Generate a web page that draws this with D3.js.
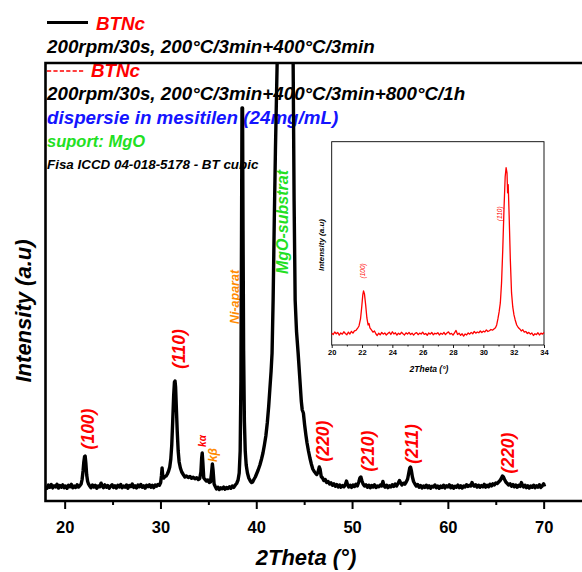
<!DOCTYPE html>
<meta charset="utf-8">
<style>
body { margin: 0; background: #fff; }
svg text { font-family: "Liberation Sans", Arial, sans-serif; font-weight: bold; font-style: italic; }
.axis text { font-style: normal; }
.axis line { stroke: #000; }
.axis path { display: none; }
</style>
<body>
<div id="chart"></div>
<script src="https://cdn.jsdelivr.net/npm/d3@7/dist/d3.min.js"></script>
<script>
// main scan: [2theta, counts]
var mainScan = [
[18.00,148],[18.15,126],[18.30,159],[18.45,137],[18.60,164],[18.75,131],[18.90,152],[19.05,141],[19.20,168],[19.35,129],
[19.50,155],[19.65,138],[19.80,161],[19.95,133],[20.10,150],[20.25,127],[20.40,158],[20.55,143],[20.70,166],[20.85,132],
[21.00,149],[21.15,136],[21.30,162],[21.45,140],[21.60,155],
[21.72,170],[21.82,215],[21.92,300],[22.00,390],[22.08,445],[22.14,450],[22.22,370],[22.30,260],[22.40,195],[22.50,168],[22.62,150],
[22.75,132],[22.90,160],[23.05,139],[23.20,157],[23.35,128],[23.50,150],[23.65,142],[23.80,178],[23.92,150],[24.05,134],
[24.20,161],[24.35,138],[24.50,155],[24.65,127],[24.80,149],[24.95,163],[25.10,135],[25.25,152],[25.40,130],[25.55,158],
[25.70,141],[25.85,165],[26.00,133],[26.15,150],[26.30,139],[26.45,160],[26.60,128],[26.75,154],[26.90,145],[27.05,170],
[27.20,136],[27.35,151],[27.50,131],[27.65,159],[27.80,142],[27.95,165],[28.10,137],[28.25,153],[28.40,129],[28.55,157],
[28.70,144],[28.85,162],[29.00,138],[29.15,156],[29.30,134],[29.45,160],[29.60,148],[29.75,166],
[29.90,158],[30.02,185],[30.10,250],[30.17,330],[30.25,240],[30.35,230],[30.48,245],[30.60,250],[30.72,270],[30.85,300],
[30.97,340],[31.08,420],[31.18,560],[31.28,800],[31.38,1060],[31.46,1190],[31.52,1200],[31.58,1140],[31.66,930],[31.75,700],
[31.85,500],[31.95,390],[32.08,330],[32.22,290],[32.38,265],[32.55,240],[32.72,250],[32.90,235],[33.08,245],[33.25,228],
[33.42,238],[33.60,222],[33.78,232],[33.95,215],[34.10,225],[34.22,290],[34.30,430],[34.36,480],[34.43,380],[34.52,230],
[34.65,215],[34.80,200],[34.95,210],[35.10,185],[35.22,190],[35.33,280],[35.42,370],[35.50,300],[35.60,170],[35.72,145],
[35.85,120],[36.00,138],[36.15,115],[36.30,132],[36.45,122],[36.60,140],[36.75,118],[36.90,135],[37.05,125],[37.20,142],
[37.35,128],[37.50,150],[37.65,136],[37.80,158],[37.95,175],[38.10,210],[38.22,280],[38.32,500],[38.40,1200],[38.46,2600],
[38.51,3930],[38.57,3930],[38.62,2700],[38.68,1500],[38.76,800],[38.85,500],[38.95,360],[39.08,280],[39.22,230],[39.38,200],
[39.52,185],[39.62,190],[39.75,215],[39.90,240],[40.05,275],[40.20,310],[40.38,360],[40.55,420],[40.70,480],[40.85,560],
[41.00,650],[41.15,780],[41.30,950],[41.42,1120],[41.55,1300],[41.65,1480],[41.76,2010],[41.88,2800],[42.00,3500],[42.18,4380],
[42.40,5400],[42.65,6200],[42.90,6500],[43.15,6300],[43.45,5600],[43.70,4900],[43.85,4380],[43.95,3000],[44.06,2010],[44.20,1700],
[44.37,1480],[44.55,1220],[44.70,1000],[44.80,910],[44.92,880],[45.05,760],[45.18,660],[45.30,580],[45.45,500],[45.60,430],
[45.75,370],[45.90,320],[46.05,295],[46.18,280],[46.32,265],[46.45,290],[46.58,340],[46.66,320],[46.78,245],[46.92,230],
[47.05,205],[47.20,215],[47.35,185],[47.50,195],[47.65,170],[47.80,182],[47.95,158],[48.10,172],[48.25,148],[48.40,165],
[48.55,140],[48.70,160],[48.85,138],[49.00,155],[49.15,142],[49.30,165],[49.42,200],[49.52,165],[49.65,140],[49.80,158],
[49.95,136],[50.10,160],[50.25,145],[50.40,168],[50.55,150],[50.70,190],[50.82,230],[50.92,240],[51.02,205],[51.15,170],
[51.30,150],[51.45,162],[51.60,138],[51.75,158],[51.90,133],[52.05,155],[52.20,140],[52.35,162],[52.50,135],[52.65,150],
[52.80,142],[52.95,160],[53.10,150],[53.22,195],[53.32,155],[53.45,138],[53.60,158],[53.75,134],[53.90,152],[54.05,140],
[54.20,163],[54.35,145],[54.50,170],[54.65,150],[54.80,175],[54.95,205],[55.08,180],[55.20,160],[55.35,178],[55.50,168],
[55.65,190],[55.80,220],[55.92,280],[56.02,330],[56.10,340],[56.20,300],[56.30,240],[56.42,195],[56.55,172],[56.70,150],
[56.85,165],[57.00,138],[57.15,155],[57.30,130],[57.45,150],[57.60,136],[57.75,158],[57.90,133],[58.05,152],[58.20,128],
[58.35,147],[58.50,139],[58.65,160],[58.80,132],[58.95,150],[59.10,127],[59.25,149],[59.40,136],[59.55,158],[59.70,131],
[59.85,152],[60.00,140],[60.15,161],[60.30,133],[60.45,151],[60.60,128],[60.75,148],[60.90,137],[61.05,159],[61.20,134],
[61.35,152],[61.50,130],[61.65,149],[61.80,141],[61.95,163],[62.10,145],[62.25,158],[62.40,150],[62.52,185],[62.62,165],
[62.75,148],[62.90,162],[63.05,140],[63.20,158],[63.35,137],[63.50,155],[63.65,142],[63.80,166],[63.95,139],[64.10,157],
[64.25,143],[64.40,168],[64.55,150],[64.70,172],[64.85,160],[65.00,180],[65.15,175],[65.30,190],[65.45,205],[65.58,225],
[65.70,250],[65.80,240],[65.92,215],[66.05,190],[66.20,175],[66.35,160],[66.50,172],[66.65,148],[66.80,165],[66.95,142],
[67.10,160],[67.25,138],[67.40,156],[67.55,145],[67.68,185],[67.78,160],[67.90,140],[68.05,158],[68.20,134],[68.35,152],
[68.50,130],[68.65,150],[68.80,137],[68.95,158],[69.10,133],[69.25,151],[69.40,139],[69.55,162],[69.70,136],[69.85,150],
[70.00,172],[70.10,145]
];

// inset scan (after 800°C anneal): [2theta, counts]
var insetScan = [
[20.00,118],[20.10,105],[20.20,130],[20.30,112],[20.40,125],[20.50,98],[20.60,120],[20.70,108],[20.80,132],[20.90,115],
[21.00,102],[21.10,128],[21.20,110],[21.30,136],[21.40,118],[21.50,140],[21.60,145],[21.70,165],[21.80,190],[21.90,260],
[21.98,380],[22.05,500],[22.10,540],[22.16,510],[22.24,400],[22.32,270],[22.40,200],[22.46,215],[22.52,170],[22.62,150],
[22.72,128],[22.82,140],[22.92,110],[23.00,95],[23.10,118],[23.20,102],[23.30,125],[23.40,108],[23.50,120],[23.60,100],
[23.70,115],[23.80,128],[23.90,105],[24.00,132],[24.10,110],[24.20,122],[24.30,98],[24.40,118],[24.50,106],[24.60,127],
[24.70,112],[24.80,100],[24.90,121],[25.00,109],[25.10,126],[25.20,104],[25.30,118],[25.40,99],[25.50,116],[25.60,124],
[25.70,103],[25.80,119],[25.90,110],[26.00,128],[26.10,106],[26.20,115],[26.30,97],[26.40,120],[26.50,108],[26.60,125],
[26.70,102],[26.80,117],[26.90,111],[27.00,123],[27.10,100],[27.20,118],[27.30,107],[27.40,126],[27.50,103],[27.60,120],
[27.70,131],[27.80,108],[27.90,116],[28.00,99],[28.10,122],[28.20,145],[28.30,105],[28.40,118],[28.50,96],[28.60,112],
[28.70,88],[28.80,110],[28.90,100],[29.00,121],[29.10,108],[29.20,126],[29.30,112],[29.40,135],[29.50,118],[29.60,130],
[29.70,122],[29.80,140],[29.90,125],[30.00,138],[30.10,130],[30.20,150],[30.30,135],[30.40,142],[30.50,155],[30.60,148],
[30.70,160],[30.80,172],[30.88,200],[30.96,260],[31.04,330],[31.12,420],[31.20,620],[31.28,950],[31.36,1350],[31.44,1680],
[31.50,1770],[31.56,1720],[31.60,1520],[31.64,1600],[31.70,1300],[31.78,850],[31.86,520],[31.94,380],[32.02,300],[32.10,250],
[32.20,200],[32.30,175],[32.40,160],[32.50,140],[32.60,152],[32.70,128],[32.80,135],[32.90,115],[33.00,126],[33.10,108],
[33.20,120],[33.30,95],[33.40,112],[33.50,104],[33.60,122],[33.70,100],[33.80,118],[33.90,109],[34.00,125]
];

var xMajor = [20, 30, 40, 50, 60, 70];
var xMinor = [25, 35, 45, 55, 65];
var insetMajor = [20, 22, 24, 26, 28, 30, 32, 34];
var insetMinor = [21, 23, 25, 27, 29, 31, 33];

// peak annotations: text, 2theta, counts (label centre), colour
var peakLabels = [
  ["(100)", 22.44, 720, "#ff0000"],
  ["(110)", 31.94, 1520, "#ff0000"],
  ["(220)", 46.97, 600, "#ff0000"],
  ["(210)", 51.67, 500, "#ff0000"],
  ["(211)", 56.26, 570, "#ff0000"],
  ["(220)", 66.28, 480, "#ff0000"]
];
var phaseLabels = [
  ["kα", 34.44, 600, "#ff0000", 10],
  ["kβ", 35.48, 460, "#ff8a00", 12],
  ["Ni-aparat", 37.78, 2040, "#ff8a00", 12.5],
  ["MgO-substrat", 42.79, 2790, "#22e022", 16]
];
var insetLabels = [
  ["(100)", 22.05, 740],
  ["(110)", 31.04, 1310]
];

var W = 582, H = 572;
var svg = d3.select("#chart").append("svg").attr("width", W).attr("height", H);

var plot = {left: 45.5, top: 63, right: 583, bottom: 501};
var x = d3.scaleLinear().domain([18, 74.2]).range([plot.left, plot.left + 56.2 * 9.58]);
var y = d3.scaleLinear().domain([0, 4380]).range([plot.bottom, plot.top]);

// legend text
var legend = svg.append("g");
legend.append("line").attr("x1", 47).attr("x2", 88).attr("y1", 22.5).attr("y2", 22.5)
  .attr("stroke", "#000").attr("stroke-width", 3);
legend.append("text").attr("x", 96).attr("y", 30).attr("fill", "#ff0000").style("font-size", "18.8px").text("BTNc");
legend.append("text").attr("x", 47).attr("y", 53).attr("fill", "#000").style("font-size", "18.8px").text("200rpm/30s, 200°C/3min+400°C/3min");
legend.append("line").attr("x1", 47).attr("x2", 84).attr("y1", 71).attr("y2", 71)
  .attr("stroke", "#ff0000").attr("stroke-width", 1.5).attr("stroke-dasharray", "4.2,2.2");
legend.append("text").attr("x", 91).attr("y", 77).attr("fill", "#ff0000").style("font-size", "18.8px").text("BTNc");
legend.append("text").attr("x", 47).attr("y", 100).attr("fill", "#000").style("font-size", "18.8px").text("200rpm/30s, 200°C/3min+400°C/3min+800°C/1h");
legend.append("text").attr("x", 47).attr("y", 124).attr("fill", "#1414ff").style("font-size", "18.8px").text("dispersie in mesitilen (24mg/mL)");
legend.append("text").attr("x", 47).attr("y", 147).attr("fill", "#22e022").style("font-size", "16.5px").text("suport: MgO");
legend.append("text").attr("x", 47).attr("y", 169).attr("fill", "#000").style("font-size", "13.4px").text("Fisa ICCD 04-018-5178 - BT cubic");

// rotated labels
function vlabel(g, t, cx, cy, size, color) {
  g.append("text")
    .attr("transform", "translate(" + cx + "," + cy + ") rotate(-90)")
    .attr("text-anchor", "middle").attr("dominant-baseline", "central")
    .attr("fill", color).style("font-size", size + "px").text(t);
}
peakLabels.forEach(function(d) { vlabel(svg, d[0], x(d[1]), y(d[2]), 17.5, d[3]); });
phaseLabels.forEach(function(d) { vlabel(svg, d[0], x(d[1]), y(d[2]), d[4], d[3]); });

// main curve, clipped to the frame
svg.append("clipPath").attr("id", "plotclip").append("rect")
  .attr("x", plot.left).attr("y", plot.top).attr("width", plot.right - plot.left).attr("height", plot.bottom - plot.top);
var line = d3.line().x(function(d) { return x(d[0]); }).y(function(d) { return y(d[1]); });
svg.append("path").datum(mainScan).attr("d", line).attr("clip-path", "url(#plotclip)")
  .attr("fill", "none").attr("stroke", "#000").attr("stroke-width", 3.4).attr("stroke-linejoin", "round");

// frame
svg.append("path").attr("d", "M" + plot.right + "," + plot.top + "H" + plot.left + "V" + plot.bottom + "H" + plot.right)
  .attr("fill", "none").attr("stroke", "#000").attr("stroke-width", 2.6);

var xAxis = svg.append("g").attr("class", "axis").attr("transform", "translate(0," + plot.bottom + ")")
  .call(d3.axisBottom(x).tickValues(xMajor).tickSize(8).tickPadding(12).tickFormat(d3.format("d")));
xAxis.selectAll("line").attr("stroke-width", 2);
xAxis.selectAll("text").style("font-size", "16.5px");
var xAxisMinor = svg.append("g").attr("class", "axis").attr("transform", "translate(0," + plot.bottom + ")")
  .call(d3.axisBottom(x).tickValues(xMinor).tickSize(4).tickFormat(""));
xAxisMinor.selectAll("line").attr("stroke-width", 2);

svg.append("text").attr("x", 306).attr("y", 565).attr("text-anchor", "middle").style("font-size", "22px").text("2Theta (°)");
svg.append("text").attr("transform", "translate(31,311) rotate(-90)").attr("text-anchor", "middle")
  .style("font-size", "22px").text("Intensity (a.u)");

// inset
var ins = {left: 331.7, top: 141.7, right: 544, bottom: 345};
var xi = d3.scaleLinear().domain([20, 34]).range([ins.left, ins.right]);
var yi = d3.scaleLinear().domain([0, 2030]).range([ins.bottom, ins.top]);
var inset = svg.append("g");
inset.append("rect").attr("x", ins.left).attr("y", ins.top).attr("width", ins.right - ins.left).attr("height", ins.bottom - ins.top)
  .attr("fill", "#fff").attr("stroke", "#000").attr("stroke-width", 0.9);
var lineI = d3.line().x(function(d) { return xi(d[0]); }).y(function(d) { return yi(d[1]); });
inset.append("path").datum(insetScan).attr("d", lineI)
  .attr("fill", "none").attr("stroke", "#ff0000").attr("stroke-width", 1.3).attr("stroke-linejoin", "round");
var xiAxis = inset.append("g").attr("class", "axis").attr("transform", "translate(0," + ins.bottom + ")")
  .call(d3.axisBottom(xi).tickValues(insetMajor).tickSize(3).tickPadding(2).tickFormat(d3.format("d")));
xiAxis.selectAll("line").attr("stroke-width", 0.9);
xiAxis.selectAll("text").style("font-size", "7.5px");
var xiMinor = inset.append("g").attr("class", "axis").attr("transform", "translate(0," + ins.bottom + ")")
  .call(d3.axisBottom(xi).tickValues(insetMinor).tickSize(1.5).tickFormat(""));
xiMinor.selectAll("line").attr("stroke-width", 0.9);
inset.append("text").attr("x", 429).attr("y", 372).attr("text-anchor", "middle").style("font-size", "8.5px").text("2Theta (°)");
inset.append("text").attr("transform", "translate(324,245) rotate(-90)").attr("text-anchor", "middle")
  .style("font-size", "8px").text("Intensity (a.u)");
insetLabels.forEach(function(d) {
  inset.append("text")
    .attr("transform", "translate(" + xi(d[1]) + "," + yi(d[2]) + ") rotate(-90)")
    .attr("text-anchor", "middle").attr("dominant-baseline", "central")
    .attr("fill", "#ff0000").style("font-size", "6.5px").style("font-weight", "normal").text(d[0]);
});
</script>
